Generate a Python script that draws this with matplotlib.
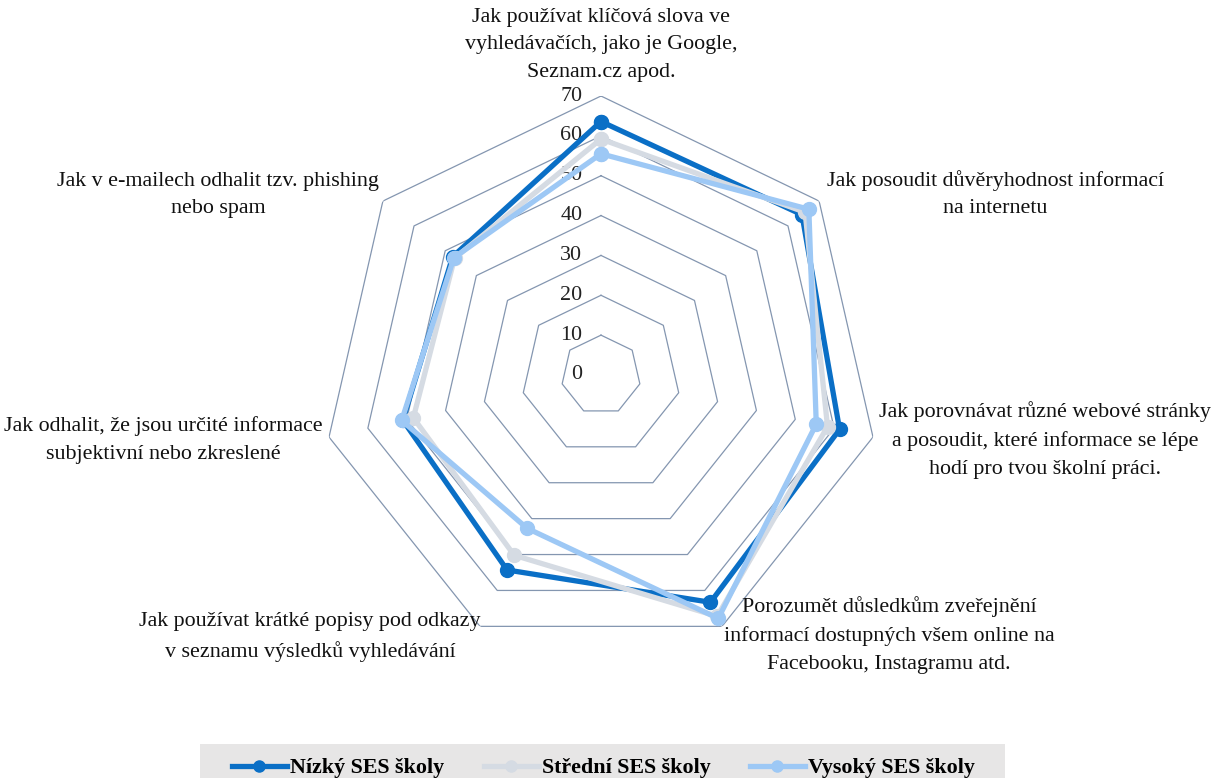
import numpy as np
import matplotlib
matplotlib.use("Agg")
from matplotlib import pyplot as plt
from matplotlib.patches import Rectangle
from matplotlib.lines import Line2D

# Data
categories = [
    "Jak používat klíčová slova ve\nvyhledávačích, jako je Google,\nSeznam.cz apod.",
    "Jak posoudit důvěryhodnost informací\nna internetu",
    "Jak porovnávat různé webové stránky\na posoudit, které informace se lépe\nhodí pro tvou školní práci.",
    "Porozumět důsledkům zveřejnění\ninformací dostupných všem online na\nFacebooku, Instagramu atd.",
    "Jak používat krátké popisy pod odkazy\nv seznamu výsledků vyhledávání",
    "Jak odhalit, že jsou určité informace\nsubjektivní nebo zkreslené",
    "Jak v e-mailech odhalit tzv. phishing\nnebo spam",
]
series_names = ["Nízký SES školy", "Střední SES školy", "Vysoký SES školy"]
low_ses = [63.6, 64.5, 61.4, 63.3, 54.3, 51.0, 47.6]
mid_ses = [59.2, 65.5, 58.3, 67.2, 50.2, 48.3, 47.0]
high_ses = [55.5, 66.7, 55.4, 67.8, 42.7, 51.3, 47.2]
r_ticks = [0, 10, 20, 30, 40, 50, 60, 70]

colors = ["#0A6FC6", "#D5DBE3", "#9DC8F5"]
grid_color = "#8496B0"
fs = 15.8

plt.rcParams["font.family"] = ["Liberation Serif", "DejaVu Serif"]

fig = plt.figure(figsize=(12.15, 7.78), dpi=100)
ax = fig.add_axes([0.265, 0.1594, 0.4593, 0.7172], projection="polar")
ax.set_theta_offset(np.pi / 2)
ax.set_theta_direction(-1)
ax.set_ylim(0, 70)
ax.grid(False)
ax.spines["polar"].set_visible(False)
ax.set_xticks([])
ax.set_yticks([])
ax.patch.set_alpha(0)

n = len(categories)
angles = np.linspace(0, 2 * np.pi, n, endpoint=False)
closed = np.append(angles, angles[0])

# heptagon gridlines
for r in r_ticks[1:]:
    ax.plot(closed, [r] * (n + 1), color=grid_color, lw=0.9, zorder=1)

# radial tick labels
for r in r_ticks:
    ax.annotate(str(r), xy=(0, r), xytext=(-13.5, 0), textcoords="offset points",
                ha="right", va="center", fontsize=fs, color="#222222")

for vals, col in zip([low_ses, mid_ses, high_ses], colors):
    v = np.append(vals, vals[0])
    ax.plot(closed, v, color=col, lw=3.8, marker="o", ms=10, zorder=3,
            solid_joinstyle="round")

# category labels (pixel positions of label centres)
label_pos = [(601, 45), (995, 194), (1045, 440), (889, 635),
             (310, 637), (163, 440), (218, 195)]
for txt, (px, py) in zip(categories, label_pos):
    fig.text(px / 1215, 1 - py / 778, txt, ha="center", va="center", fontsize=fs,
             linespacing=1.62, color="#111111")

# legend
fig.patches.append(Rectangle((200 / 1215, 0), 805 / 1215, 34 / 778,
                             transform=fig.transFigure, facecolor="#E7E6E6",
                             edgecolor="none", zorder=0))
handles = [Line2D([0], [0], color=c, lw=3.8, marker="o", ms=8) for c in colors]
fig.legend(handles, series_names, loc="center", bbox_to_anchor=(0.4967, 10 / 778),
           ncol=3, frameon=False, handlelength=2.5, handletextpad=0.15,
           columnspacing=1.8, prop={"weight": "bold", "size": fs})

fig.savefig("out.png", dpi=100)
